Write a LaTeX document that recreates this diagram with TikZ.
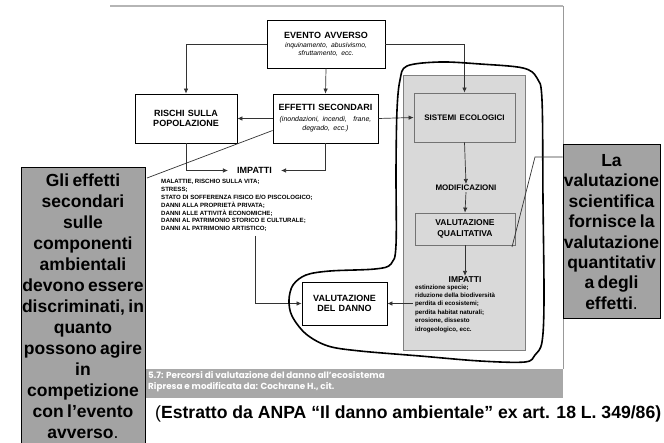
\documentclass[tikz,border=0pt]{standalone}
\usepackage{fontspec}
\setmainfont{Liberation Sans}
\newfontfamily\capfont{Poppins}
\usetikzlibrary{arrows.meta}
\definecolor{panelgray}{HTML}{D9D9D9}
\definecolor{callgray}{HTML}{A3A3A3}
\definecolor{capgray}{HTML}{A8A8A8}
\definecolor{framegray}{HTML}{B5B5B5}
\newcommand{\fsz}[2]{\fontsize{#1}{#2}\selectfont}
\begin{document}
\begin{tikzpicture}[x=1pt,y=-1pt,
  wbox/.style={draw=black, line width=0.8pt, fill=white, align=center, inner sep=0pt},
  gbox/.style={draw=black!55, line width=0.8pt, fill=panelgray, align=center, inner sep=0pt},
  conn/.style={draw=black!80, line width=0.7pt, -{Latex[length=5pt,width=4.5pt]}},
  plain/.style={draw=black!80, line width=0.7pt},
  callout/.style={draw=black, line width=1pt, fill=callgray, align=center, inner sep=0pt},
  lbl/.style={inner sep=1pt}
]
\useasboundingbox (0,0) rectangle (664,443);
\fill[white] (0,0) rectangle (664,443);
% frame
\draw[framegray, line width=1.5pt] (110,6) -- (563,6);
\draw[black!40, line width=0.6pt] (563,6) -- (563,369);
% gray panel
\node[draw=black!50, line width=0.8pt, fill=panelgray, minimum width=122, minimum height=275, inner sep=0pt] (panel) at (464,212.5) {};
% boxes
\node[wbox, minimum width=118, minimum height=48, text width=116] (evento) at (326,44)
  {\fsz{9}{10}\bfseries EVENTO AVVERSO\par\vspace{1pt}\fsz{6.8}{8}\mdseries\itshape inquinamento, abusivismo,\\sfruttamento, ecc.\par};
\node[wbox, minimum width=102, minimum height=49, text width=100] (rischi) at (186,118.5)
  {\fsz{9}{10.5}\bfseries RISCHI SULLA\\POPOLAZIONE\par};
\node[wbox, minimum width=105, minimum height=49, text width=103] (effetti) at (325.5,118.5)
  {\fsz{9}{10}\bfseries EFFETTI SECONDARI\par\vspace{1pt}\fsz{7}{9.5}\mdseries\itshape (inondazioni, incendi,\ \ frane,\\degrado, ecc.)\par};
\node[gbox, minimum width=101, minimum height=49, text width=99] (sistemi) at (464.5,117.5)
  {\fsz{8}{9}\bfseries SISTEMI ECOLOGICI\par};
\node[lbl, font={\fsz{8}{9}\bfseries}] (modif) at (466,188) {MODIFICAZIONI};
\node[gbox, minimum width=100, minimum height=32, text width=98] (vq) at (465,229)
  {\fsz{8.5}{10.5}\bfseries VALUTAZIONE\\QUALITATIVA\par};
\node[lbl, font={\fsz{8.5}{9}\bfseries}] (impRt) at (465,280) {IMPATTI};
\node[anchor=north west, align=left, inner sep=0pt, font={\fsz{6.2}{8.4}\bfseries}] (impRl) at (415,284.5)
  {estinzione specie;\\riduzione della biodiversità\\perdita di ecosistemi;\\perdita habitat naturali;\\erosione, dissesto\\idrogeologico, ecc.};
\node[lbl, font={\fsz{9}{10}\bfseries}] (impLt) at (254.5,170.5) {IMPATTI};
\node[anchor=north west, align=left, inner sep=0pt, font={\fsz{6.1}{7.9}\bfseries}] (impLl) at (161,179)
  {MALATTIE, RISCHIO SULLA VITA;\\STRESS;\\STATO DI SOFFERENZA FISICO E/O PISCOLOGICO;\\DANNI ALLA PROPRIETÀ PRIVATA;\\DANNI ALLE ATTIVITÀ ECONOMICHE;\\DANNI AL PATRIMONIO STORICO E CULTURALE;\\DANNI AL PATRIMONIO ARTISTICO;};
\node[wbox, minimum width=85, minimum height=43, text width=83] (danno) at (344.5,303.5)
  {\fsz{9}{10.5}\bfseries VALUTAZIONE\\DEL DANNO\par};
% connectors
\draw[conn] (evento.west) -| (rischi.north);
\draw[conn] (evento.east) -| (sistemi.north);
\draw[conn] (evento.south) -- (effetti.north);
\draw[conn] (effetti.west) -- (rischi.east);
\draw[conn] (effetti.east) -- (sistemi.west);
\draw[conn] (rischi.south) |- ([xshift=-8pt]impLt.west);
\draw[conn] (effetti.south) |- ([xshift=8pt]impLt.east);
\draw[conn] (sistemi.south) -- (modif.north);
\draw[conn] (modif.south) -- (vq.north);
\draw[conn] (vq.south) -- (impRt.north);
\coordinate (lstart) at (255,236);
\draw[conn] (lstart) |- (danno.west);
\coordinate (dstart) at (413,303.5);
\draw[conn] (dstart) -- (danno.east);
% hand drawn curve
\draw[black, line width=1.6pt, line join=round] plot[smooth cycle, tension=0.55] coordinates {
 (407,66) (440,62) (480,64) (523,68) (537,78) (542,100) (543,200) (544,300) (542,342) (535,355) (525,362)
 (480,361) (420,356) (360,351) (328,346) (306,334) (292,316) (289,300) (293,285) (306,275) (330,271)
 (375,269) (391,264) (396,245) (396,170) (397,110) (400,80)};
% caption bar
\node[fill=capgray, minimum width=418, minimum height=29, inner sep=0pt, anchor=north west] (capbar) at (145,369) {};
\node[anchor=north west, align=left, text=white, inner sep=0pt, font={\capfont\bfseries\fsz{8.8}{10.5}}] (captxt) at (148,371.5)
  {5.7: Percorsi di valutazione del danno all’ecosistema\\Ripresa e modificata da: Cochrane H., cit.};
% callouts
\node[callout, minimum width=124, minimum height=276, text width=124] (leftc) at (83,306)
  {\fsz{17.5}{21}\bfseries Gli effetti\\secondari\\sulle\\componenti\\ambientali\\devono essere\\discriminati, in\\quanto\\possono agire\\in\\competizione\\con l’evento\\avverso\mdseries.\par};
\node[callout, minimum width=97, minimum height=174, text width=97] (rightc) at (611.5,232)
  {\fsz{17.5}{20.4}\bfseries La\\valutazione\\scientifica\\fornisce la\\valutazione\\quantitativ\\a degli\\effetti\mdseries.\par};
\coordinate (lc1) at (147,178);
\draw[plain] ([yshift=-12pt]effetti.west) -- (lc1);
\coordinate (rc1) at (535,157);
\coordinate (rc2) at (512,247);
\draw[plain] (rightc.west |- rc1) -- (rc1) -- (rc2);
% source line
\node[anchor=base west, inner sep=0pt] (src) at (155,419)
  {\fsz{17.6}{20}(\textbf{Estratto da ANPA “Il danno ambientale” ex art. 18 L. 349/86)}};
\end{tikzpicture}
\end{document}
